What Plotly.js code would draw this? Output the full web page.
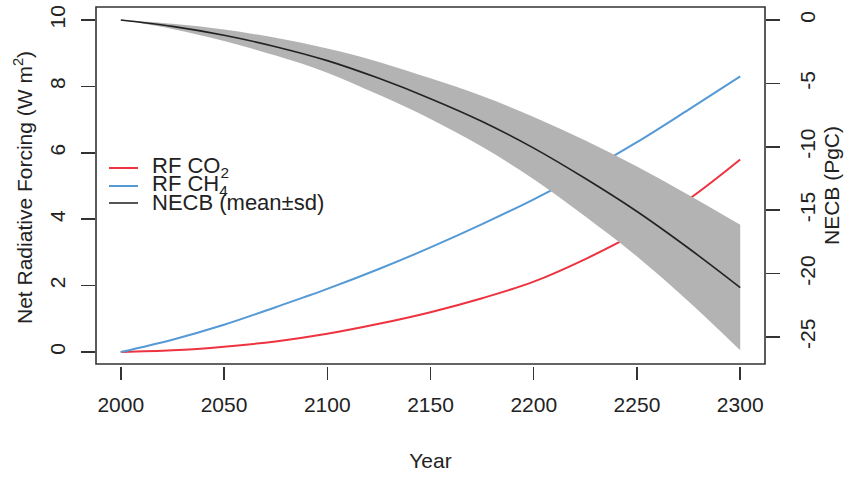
<!DOCTYPE html>
<html>
<head>
<meta charset="utf-8">
<script src="https://cdn.plot.ly/plotly-3.0.1.min.js"></script>
<style>html,body{margin:0;padding:0;background:#fff;}#plot{width:850px;height:477px;}</style>
</head>
<body>
<div id="plot"></div>
<script>
const years = [2000, 2025, 2050, 2075, 2100, 2125, 2150, 2175, 2200, 2225, 2250, 2275, 2300];
const rfCO2 = [0, 0.05, 0.16, 0.32, 0.55, 0.85, 1.2, 1.62, 2.12, 2.8, 3.6, 4.6, 5.8];
const rfCH4 = [0, 0.37, 0.82, 1.35, 1.9, 2.5, 3.15, 3.85, 4.6, 5.42, 6.32, 7.3, 8.3];
const necbMean = [0, -0.5, -1.2, -2.1, -3.2, -4.6, -6.2, -8.0, -10.1, -12.5, -15.1, -18.0, -21.1];
const necbUpper = [0, -0.3, -0.75, -1.4, -2.25, -3.3, -4.6, -6.0, -7.65, -9.5, -11.55, -13.8, -16.15];
const necbLower = [0, -0.7, -1.65, -2.8, -4.15, -5.9, -7.8, -10.0, -12.55, -15.5, -18.65, -22.2, -26.05];
const xTicks = [2000, 2050, 2100, 2150, 2200, 2250, 2300];
const leftTicks = [0, 2, 4, 6, 8, 10];
const rightTicks = [-25, -20, -15, -10, -5, 0];
const legendLabels = ["RF CO<sub>2</sub>", "RF CH<sub>4</sub>", "NECB (mean\u00b1sd)"];
const legendColors = ["#EE3340", "#5599D5", "#555555"];
const yTitleLeft = "Net Radiative Forcing (W m<sup>2</sup>)";

const FONT = "Liberation Sans, Arial, sans-serif";
const TXT = "#222222";
const FS = 21;

const traces = [
  {x: years, y: necbLower, yaxis: "y2", mode: "lines", line: {width: 0, shape: "spline", color: "#B3B3B3"}, hoverinfo: "skip", showlegend: false},
  {x: years, y: necbUpper, yaxis: "y2", mode: "lines", fill: "tonexty", fillcolor: "#B3B3B3", line: {width: 0, shape: "spline", color: "#B3B3B3"}, showlegend: false},
  {x: years, y: necbMean, yaxis: "y2", mode: "lines", line: {color: "#222222", width: 1.6, shape: "spline"}, showlegend: false},
  {x: years, y: rfCO2, mode: "lines", line: {color: legendColors[0], width: 2, shape: "spline"}, showlegend: false},
  {x: years, y: rfCH4, mode: "lines", line: {color: legendColors[1], width: 2, shape: "spline"}, showlegend: false}
];

const px2paperX = px => (px - 96) / 669;
const px2paperY = py => (366 - py) / 359;
const legendY = [168, 186, 203];

const shapes = [
  {type: "rect", xref: "x domain", yref: "y domain", x0: 0, x1: 1, y0: 0, y1: 1, line: {color: "#333333", width: 1.6}}
];
const annotations = [
  {xref: "paper", yref: "paper", x: px2paperX(23), y: px2paperY(188), xanchor: "center", yanchor: "middle", textangle: -90, text: yTitleLeft, showarrow: false, font: {family: FONT, size: FS, color: TXT}}
];
legendLabels.forEach((lab, i) => {
  shapes.push({type: "line", xref: "paper", yref: "paper", x0: px2paperX(109), x1: px2paperX(138), y0: px2paperY(legendY[i]), y1: px2paperY(legendY[i]), line: {color: legendColors[i], width: 2}});
  annotations.push({xref: "paper", yref: "paper", x: px2paperX(150), y: px2paperY(legendY[i] - 1), xanchor: "left", yanchor: "middle", text: lab, showarrow: false, font: {family: FONT, size: 22, color: TXT}});
});

const layout = {
  width: 850, height: 477,
  margin: {l: 96, r: 85, t: 7, b: 111, pad: 0},
  paper_bgcolor: "#ffffff", plot_bgcolor: "#ffffff",
  font: {family: FONT, size: FS, color: TXT},
  showlegend: false,
  xaxis: {
    range: [1988, 2312], tickvals: xTicks, ticktext: xTicks.map(String),
    ticks: "outside", ticklen: 13, tickwidth: 1.5, tickcolor: "#333333",
    ticklabelstandoff: 7,
    showgrid: false, zeroline: false, showline: false,
    anchor: "free", position: 0,
    tickfont: {family: FONT, size: FS, color: TXT},
    title: {text: "Year", font: {family: FONT, size: FS, color: TXT}, standoff: 38}
  },
  yaxis: {
    domain: [2 / 359, 1], range: [-0.361, 10.392], tickvals: leftTicks, ticktext: leftTicks.map(String),
    ticks: "outside", ticklen: 14, tickwidth: 1.5, tickcolor: "#333333", tickangle: -90,
    ticklabelstandoff: 8,
    showgrid: false, zeroline: false, showline: false,
    tickfont: {family: FONT, size: FS, color: TXT}
  },
  yaxis2: {
    overlaying: "y", side: "right", anchor: "x",
    range: [-27.13, 1.03], tickvals: rightTicks, ticktext: rightTicks.map(String),
    ticks: "outside", ticklen: 14, tickwidth: 1.5, tickcolor: "#333333", tickangle: -90,
    ticklabelstandoff: 10,
    showgrid: false, zeroline: false, showline: false,
    tickfont: {family: FONT, size: FS, color: TXT},
    title: {text: "NECB (PgC)", font: {family: FONT, size: FS, color: TXT}, standoff: 6}
  },
  shapes: shapes,
  annotations: annotations
};

Plotly.newPlot("plot", traces, layout, {displayModeBar: false, staticPlot: true});
</script>
</body>
</html>
